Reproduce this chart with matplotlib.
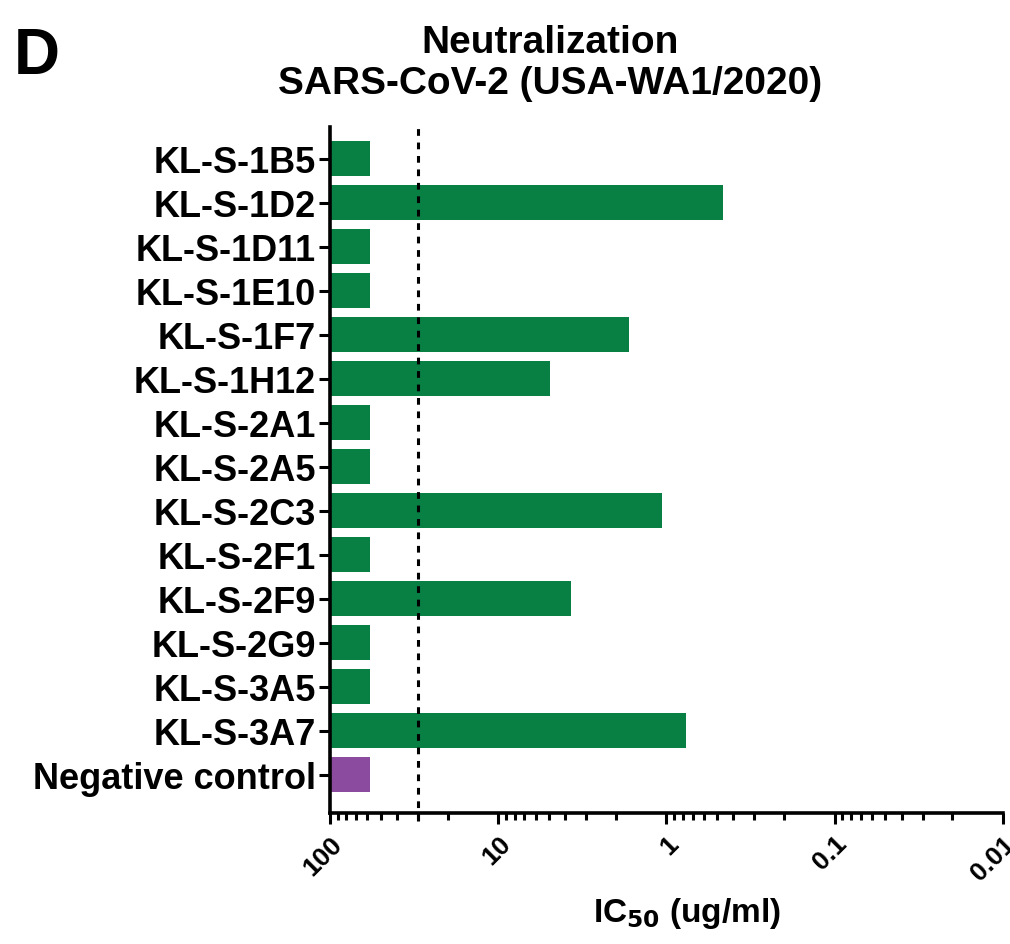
import matplotlib.pyplot as plt
from matplotlib.ticker import LogLocator, NullFormatter, FixedLocator

plt.rcParams['font.family'] = ['Liberation Sans', 'DejaVu Sans']
plt.rcParams['font.weight'] = 'bold'

antibodies = ['KL-S-1B5', 'KL-S-1D2', 'KL-S-1D11', 'KL-S-1E10', 'KL-S-1F7',
              'KL-S-1H12', 'KL-S-2A1', 'KL-S-2A5', 'KL-S-2C3', 'KL-S-2F1',
              'KL-S-2F9', 'KL-S-2G9', 'KL-S-3A5', 'KL-S-3A7', 'Negative control']
ic50 = [58, 0.46, 58, 58, 1.68, 4.9, 58, 58, 1.06, 58, 3.7, 58, 58, 0.77, 58]
is_control = [False] * 14 + [True]
cutoff = 30
xtick_values = [100, 10, 1, 0.1, 0.01]
xtick_labels = ['100', '10', '1', '0.1', '0.01']

green = '#087f43'
purple = '#8b4b9f'

fig = plt.figure(figsize=(10.1, 9.45), dpi=100)
ax = fig.add_axes([0.3267, 0.1386, 0.6663, 0.726])

colors = [purple if c else green for c in is_control]
y = list(range(len(antibodies)))
ax.barh(y, [100 - v for v in ic50], left=ic50, height=0.8, color=colors)

ax.set_xscale('log')
ax.set_xlim(100, 0.01)
ax.set_ylim(len(antibodies) - 1 + 0.875, -0.72)

# dashed cut-off line, runs a little into the x axis
ax.axvline(cutoff, color='black', linestyle=(0, (2.2, 2.2)), linewidth=2.2,
           ymin=-0.012, clip_on=False, zorder=3)

ax.set_yticks(y)
ax.set_yticklabels(antibodies, fontsize=26, fontweight='bold')
ax.xaxis.set_major_locator(FixedLocator(xtick_values))
ax.set_xticklabels(xtick_labels, rotation=45, ha='right', rotation_mode='anchor',
                   fontsize=19, fontweight='bold')
ax.xaxis.set_minor_locator(LogLocator(base=10, subs=range(2, 10), numticks=20))
ax.xaxis.set_minor_formatter(NullFormatter())

ax.tick_params(axis='both', which='major', width=2.2, length=8, direction='out', pad=2)
ax.tick_params(axis='x', which='minor', width=2.2, length=5, direction='out')
ax.tick_params(axis='x', which='major', pad=5)

for side in ['top', 'right']:
    ax.spines[side].set_visible(False)
for side in ['left', 'bottom']:
    ax.spines[side].set_linewidth(2.6)

ax.set_xlabel('IC$_{\\mathbf{50}}$ (ug/ml)', fontsize=24, fontweight='bold')
ax.xaxis.set_label_coords(0.53, -0.12)

fig.text(0.545, 0.955, 'Neutralization', ha='center', va='center',
         fontsize=28, fontweight='bold')
fig.text(0.545, 0.911, 'SARS-CoV-2 (USA-WA1/2020)', ha='center', va='center',
         fontsize=28, fontweight='bold')
fig.text(0.014, 0.94, 'D', ha='left', va='center', fontsize=46, fontweight='bold')

fig.savefig('out.png', dpi=100)
